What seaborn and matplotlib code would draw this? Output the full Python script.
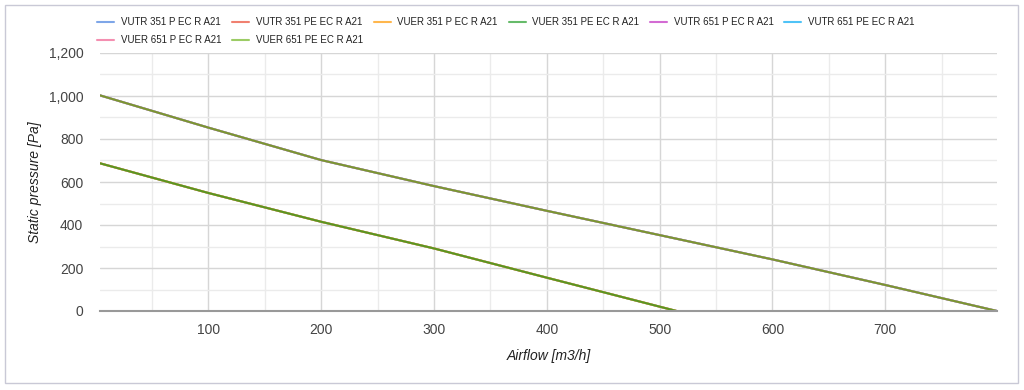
import numpy as np
import pandas as pd
import matplotlib
matplotlib.use("Agg")
import matplotlib.pyplot as plt
import matplotlib.ticker as ticker
from matplotlib.lines import Line2D
from matplotlib.patches import Rectangle
import seaborn as sns

sns.set_style("whitegrid")
plt.rcParams['font.family'] = ['Liberation Sans', 'DejaVu Sans']

# series names (legend order as shown)
series_names = [
    "VUTR 351 P EC R A21", "VUTR 351 PE EC R A21",
    "VUER 351 P EC R A21", "VUER 351 PE EC R A21",
    "VUTR 651 P EC R A21", "VUTR 651 PE EC R A21",
    "VUER 651 P EC R A21", "VUER 651 PE EC R A21",
]
legend_colors = ["#7ea6e8", "#f08070", "#ffb74d", "#66bb6a",
                 "#d36bd3", "#4fc3f7", "#f48fb1", "#9ccc65"]

# 351 units share one curve, 651 units share another
airflow_351 = [4, 100, 200, 300, 400, 515]
pressure_351 = [687, 549, 415, 291, 155, 0]
airflow_651 = [4, 100, 200, 300, 400, 500, 600, 700, 799]
pressure_651 = [1003, 853, 702, 581, 466, 353, 240, 121, 0]

rows = []
for name in series_names:
    if "351" in name:
        xs, ys = airflow_351, pressure_351
    else:
        xs, ys = airflow_651, pressure_651
    for x, y in zip(xs, ys):
        rows.append({"series": name, "airflow": x, "pressure": y})
df = pd.DataFrame(rows)

# the overlapping lines blend to these visible tones
line_colors = dict(zip(series_names, legend_colors))
line_colors["VUER 351 PE EC R A21"] = "#5a9522"
line_colors["VUER 651 PE EC R A21"] = "#7a9632"

fig = plt.figure(figsize=(10.24, 3.9), dpi=100)
ax = fig.add_axes([100/1024, 1-311/390, 897/1024, 258/390])

sns.lineplot(data=df, x="airflow", y="pressure", hue="series",
             hue_order=series_names, palette=line_colors,
             linewidth=1.5, legend=False, ax=ax, sort=False)

ax.set_xlim(4, 799)
ax.set_ylim(0, 1200)
ax.xaxis.set_major_locator(ticker.MultipleLocator(100))
ax.xaxis.set_minor_locator(ticker.MultipleLocator(50))
ax.yaxis.set_major_locator(ticker.MultipleLocator(200))
ax.yaxis.set_minor_locator(ticker.MultipleLocator(100))
ax.yaxis.set_major_formatter(ticker.FuncFormatter(lambda v, p: f"{int(v):,}"))

ax.grid(True, which="major", color="#d6d6d6", linewidth=1.0)
ax.grid(True, which="minor", color="#ebebeb", linewidth=1.0)
ax.set_axisbelow(True)
for s in ["left", "right", "top"]:
    ax.spines[s].set_visible(False)
ax.spines["bottom"].set_color("#999999")
ax.spines["bottom"].set_linewidth(1.5)

ax.tick_params(axis="both", which="both", length=0, labelsize=10, labelcolor="#444444")
ax.tick_params(axis="x", pad=9)
ax.tick_params(axis="y", pad=12)

ax.set_xlabel("Airflow [m3/h]", fontsize=10, style="italic", color="#222222", labelpad=8)
ax.set_ylabel("Static pressure [Pa]", fontsize=10, style="italic", color="#222222", labelpad=5)

# legend: row-major order arranged for column filling
handles = {n: Line2D([0], [0], color=c, linewidth=1.5) for n, c in zip(series_names, legend_colors)}
order = [0, 6, 1, 7, 2, 3, 4, 5]
fig.legend([handles[series_names[i]] for i in order], [series_names[i] for i in order],
           ncol=6, loc="upper left", bbox_to_anchor=(97/1024, 1-17/390),
           frameon=False, fontsize=7, handlelength=1.75, handletextpad=0.7,
           columnspacing=1.1, labelspacing=0.85, borderpad=0, borderaxespad=0,
           labelcolor="#222222")

fig.patches.append(Rectangle((5/1024, 1-383/390), 1013/1024, 378/390,
                             transform=fig.transFigure, fill=False,
                             edgecolor="#c9c9d6", linewidth=1.0))

fig.savefig("out.png", dpi=100)
